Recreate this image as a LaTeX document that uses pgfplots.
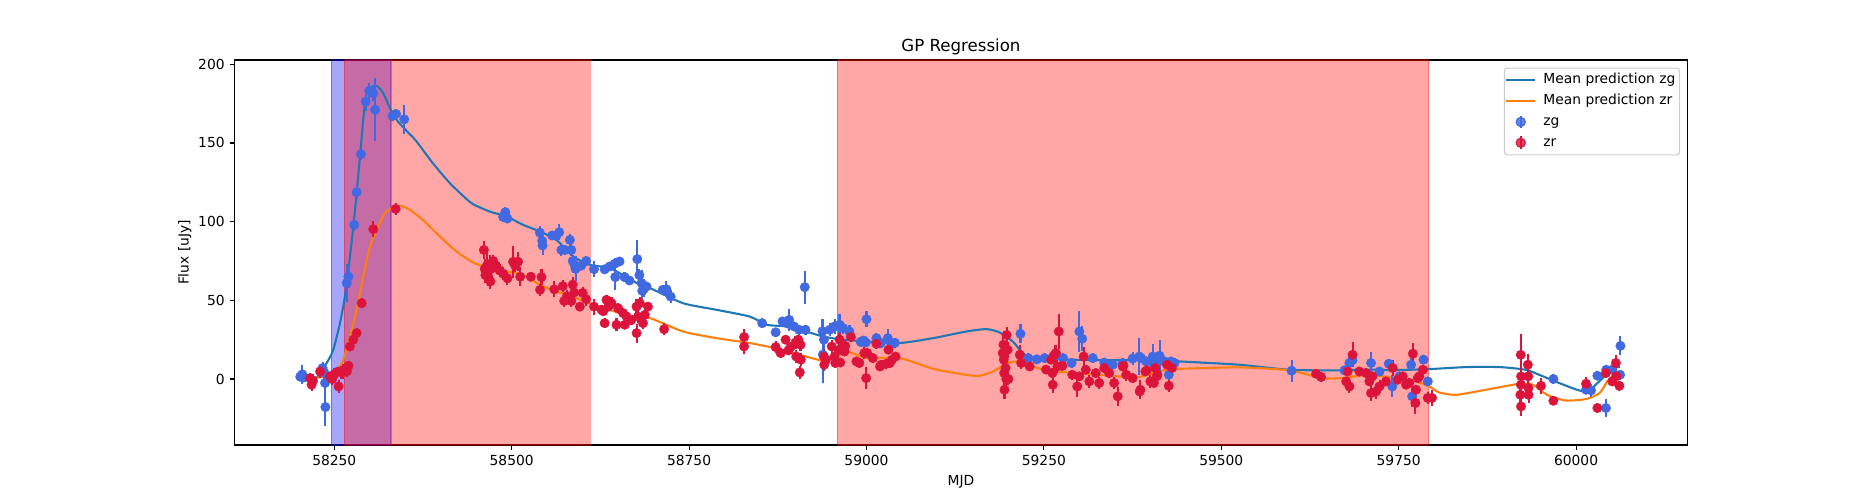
\documentclass[border=0pt]{standalone}
\usepackage{fontspec}
\setmainfont{DejaVu Sans}
\usepackage{pgfplots}
\usepackage{pgfplotstable}
\pgfplotsset{compat=1.18}
\definecolor{royalblue}{RGB}{65,105,225}
\definecolor{crimsonc}{RGB}{220,20,60}
\definecolor{tabblue}{RGB}{31,119,180}
\definecolor{taborange}{RGB}{255,127,14}
\definecolor{legedge}{RGB}{204,204,204}

\pgfplotstableread{
x y e
58202 1.5 3
58205 3 6
58207 1 3
58233.5 7 4
58236 4 5
58237 -2.5 4
58237.5 -17.8 12
58267.5 61 12
58270 65.1 7
58278.2 98 4
58281.5 118.7 4
58287.6 142.9 4
58294.2 176.3 6
58299.3 183.2 5
58305 181.6 5
58307.7 171 20
58332 167.2 3
58337 168.4 3
58348.6 165 9
58488 103 3
58490.4 104.3 3
58491 106 3
58494 102 3
58539.7 93 4
58543 87.8 5
58543.5 84.8 6
58557 91.2 3
58563 91 3
58567 93.3 5
58570 82 4
58575 82 3
58582 88.4 4
58584 82 4
58586 75 4
58589 72 4
58590 70 8
58598 72 3
58605 75 3
58616 69.8 5
58631 69.7 3
58638 71.5 3
58645 73.2 4
58646 64.8 8
58652 74.7 3
58659 64.8 3
58666 62.6 3
58677 76.2 12
58680 66 4
58683 61 8
58684 56 5
58686 57 5
58690 58.8 3
58713 56.7 3
58718 57.1 5
58724 52.4 4
58853 35.5 3
58872 29.7 3
58881.6 36.6 3
58889 35.3 3
58891 37.6 7
58898 33.4 3
58905 31.3 3
58913 58.4 10.5
58914 31.3 3
58938 30.4 8
58940 25 7
58938.5 15.5 18
58948 31.3 4
58955 33.4 5
58962 34.5 7
58967 32.4 4
58976 30.2 4
58992 23.5 3
58996 24.5 3
59000 38 5
58993 23.9 3
58999 23.2 3
59014 26 3
59020 22.8 3
59030 26 6
59035 22.4 3
59040 23 3
59217 28.8 6
59228 13.3 3
59240 12.5 3
59251 13.3 3
59263 14.3 4
59277 13.3 3
59289 10.2 3
59300 30.2 13
59304 25.6 8
59319 13.3 3
59335 10.5 3
59347 9.1 3
59361 10.2 3
59375 13 4
59384.6 14.3 12
59387 13.3 3
59394 11.2 3
59403.5 14.3 8
59404 10.2 3
59410.5 12.3 3
59413 14.8 10
59420 11.2 3
59429 11.2 3
59434 10.2 3
59426 2.7 5
59599 5.3 7
59673.5 5.5 3
59680.5 10.2 5
59685 12 3
59711 10.2 7
59723 4.8 3
59736 9.7 3
59741 -4.7 7
59751 1.7 3
59767.5 9.1 4
59769 -11 7
59785 12.3 3
59791 -1.5 3
59968 0 3
60014 -6.8 3
60021 -7.2 4
60030 2.1 3
60042 -18.4 6
60042.5 5.9 3
60051 5.9 3
60062 2.7 3
60062.5 21.1 6
}\zgdata

\pgfplotstableread{
x y e
58216 0.6 3
58220 -1 4
58218 -3.6 4
58230 4.8 4
58244 1.7 3
58247 0 4
58250 3 4
58255.6 4.8 3
58256 -4.7 4
58260 4.2 4
58262.7 4.8 5
58265 4.8 3
58268 5 4
58270 8.4 3
58272 20.7 3
58276.8 25 3
58281.5 29.2 3
58288.6 48.2 3
58305 95.2 5
58336.5 108.1 4
58460.8 82 6
58462 70 6
58463 66 5
58465 72 8
58467 65 6
58469 73 6
58470 62 5
58471 70 5
58474 75 4
58478 72 3
58483 69 4
58488 67 4
58494 64 4
58502 74.5 10
58505 72 4
58509 74.5 6
58512 65 6
58527 65 3
58540 56.7 4
58542 64.8 5
58560 57 5
58572 59 4
58574 49.6 4
58578 52.6 4
58584 49.6 4
58586 60 5
58588 55 4
58596 46 3
58600 54.7 4
58605 50.7 4
58616 46 5
58626.6 44 3
58629 43.1 3
58631 35.5 3
58633.6 50.3 3
58636 46 3
58640.7 48.2 4
58647.7 34.5 4
58650 45 3
58657 41.9 3
58659.4 34.5 3
58661.8 39.8 3
58668.8 37.6 3
58675.9 46 5
58676 29.2 6
58678 39.7 4
58680.6 48.2 4
58685 35.5 4
58687.6 40.8 3
58692 46 3
58714.8 31.7 4
58827.5 26.7 5
58827.5 20.7 5
58872 20.3 4
58879 16.5 3
58886 25 3
58890 18.2 3
58893 20.3 3
58900 23.2 4
58901 14.3 4
58904 25 3
58906 4.2 4
58907 21.8 4
58907.5 12.3 4
58940 14.3 5
58940.5 9.1 4
58943 12.3 3
58951 20.7 4
58955 14.3 4
58956 10.2 3
58962 25 4
58962.5 18.6 3
58963 10.5 3
58969 17.5 3
58970 21 4
58978 26.7 3
58985.8 11.2 3
58990 10.2 3
58997 16.5 4
58999.5 0.6 7
59001 16.5 3
59009 13.3 3
59014 22.4 3
59019 8 3
59021 9.1 3
59028 9.7 3
59031 18.6 3
59033 10.2 3
59036 12.3 3
59041 14.3 3
59192 16.5 5
59193 21.8 6
59193.5 12.3 6
59194 3.8 5
59194.5 -6.8 6
59196 7 5
59197 0 5
59197.5 28 5
59199 18.6 5
59200 0 4
59216 15.4 6
59218 10.2 4
59230 8 3
59253 6 3
59260 12.3 3
59262 3.8 3
59262.5 -3.6 5
59265 15.4 6
59267 16.5 5
59269 8 4
59271 30.2 11
59276 8.4 3
59290 2.7 3
59297 -4.7 7
59300 1.7 3
59306 14.3 6
59309 5.9 3
59314 -1.5 4
59323 3.8 3
59328 -2.5 4
59335 7 3
59342 3.8 3
59349 -2.5 4
59354 -11 6
59361 8 3
59362 8.4 3
59366 2.7 4
59375 0.6 3
59385 -7.9 5
59386 -6.8 6
59393 4.8 3
59395 5.5 3
59400 -1.5 4
59405 -2.5 3
59407 7 3
59409 1.7 3
59410 2.7 3
59423.5 9.1 3
59430.5 7 3
59426 -4.3 4
59633.5 3.4 3
59640.6 1.3 3
59676 -1.5 3
59678 4.8 3
59680.6 -4.7 4
59685 15.4 8
59694.6 4.8 3
59704 3.8 3
59708.7 -1.5 3
59711 -8.9 5
59713 1.7 3
59718 -7.9 5
59723 -4.7 4
59732 -1.5 3
59741.5 7 5
59748.6 -0.4 3
59755.6 1.7 3
59760.4 -3.6 3
59765 -2.5 3
59770 16.1 7
59773.5 -15.2 7
59774.4 -6.8 3
59777 0.6 3
59779 1.7 3
59784 5.9 3
59791 -12 4
59797 -12 5
59922 15.4 13
59922.5 1.7 5
59932 9.1 7
59922.2 -3.6 5
59932.5 1.7 4
59932.8 -5.7 5
59921.5 -10 5
59933 -10 5
59922.4 -17.4 6
59950.5 -4.3 5
59968 -13.8 3
60014 -3 4
60030 -18.4 3
60042 3.8 3
60051 -1.5 3
60056 10.2 5
60056.5 1.7 3
60061 -4.3 3
}\zrdata

\pgfplotstableread{
x y
58202 2
58212 0.8
58222 0.4
58230 3
58234.5 7
58241 11.5
58248.6 18.6
58258 35.5
58265 52.4
58271 73.6
58276.8 96.9
58281.5 118
58286.2 141.3
58290.8 164.6
58294.6 179.4
58300 184.8
58309.7 186.2
58319 181.6
58328.5 172
58338 164.6
58347 160
58356.6 155.5
58366 150.9
58389 137.1
58413 124.4
58436 114.5
58446 111
58469 106.4
58493 103.2
58516 98
58540 93.7
58563 88.4
58587 77.8
58610 72.6
58638 70.5
58665 64
58680 60
58695 57.8
58741.5 48.2
58788.6 44
58835.5 39.7
58859 34.5
58887 33.4
58915 30.2
58939 27
58967 25
59000 23.9
59047 22.9
59094 26
59140.6 30.2
59169 31.7
59187.6 29.6
59206 23.9
59216 18.6
59228 14
59250 12.8
59300 12.2
59350 12
59400 12
59441 11.2
59525 9.1
59596 5.9
59666 5.5
59700 6
59750 5.8
59793 6.3
59845 7.6
59892 7.6
59929 5.9
59948 2.7
59976 -2.5
60004 -7.2
60017 -7.6
60035 -0.4
60051 7
60062 7.5
}\zgline

\pgfplotstableread{
x y
58202 0.5
58220 0.6
58240 2
58253.4 4.8
58262.7 12.3
58272 27
58281.5 44
58290.8 65.1
58300.3 84.2
58309.7 94.8
58321.4 105.4
58333 109.2
58341 110
58347 109.6
58356.6 107.5
58375 101
58399 90.5
58422.4 81
58445.8 74
58469 70.5
58492.8 68.3
58516 66.2
58539.7 59.9
58563 55.6
58586.6 52.4
58610 48
58638 44
58665 40
58695 38.7
58741.5 30.2
58788.6 26
58835 22.9
58882 18.6
58915 14.3
58939 11.8
58960 15
58976 17
59000 13.3
59047 13.3
59094 6.5
59140 2.7
59159 2.1
59178 4.8
59201 10.5
59216 11
59234 8
59260 5
59290 4
59328 2.7
59360 1.5
59384 1.3
59412 4.8
59431 6.3
59525 7.4
59596 5.5
59642 0.6
59670 0.6
59707 2.7
59740 1
59770 -1
59793 -4.7
59807 -8.5
59831 -10
59873 -6.8
59920 -3
59939 -3.6
59959 -10
59985 -13.6
60014 -12.7
60033 -8.9
60044 -1.5
60052 2
60062 3
}\zrline

\begin{document}
\begin{tikzpicture}
\path[use as bounding box] (-168.75bp,-39.6bp) rectangle (1181.25bp,320.4bp);
\begin{axis}[
  at={(0,0)}, anchor=south west,
  scale only axis, width=1046.25bp, height=277.2bp,
  xmin=58109.2, xmax=60157, ymin=-41.9, ymax=202.7,
  axis line style={line width=0.8bp},
  xtick={58250,58500,58750,59000,59250,59500,59750,60000},
  ytick={0,50,100,150,200},
  scaled x ticks=false, scaled y ticks=false,
  tick align=outside, xtick pos=bottom, ytick pos=left,
  major tick length=3.5bp,
  every tick/.style={line width=0.8bp, black},
  tick label style={font=\fontsize{10}{12}\selectfont},
  /pgf/number format/1000 sep={},
  /pgf/number format/assume math mode=true,
  title={GP Regression},
  title style={font=\fontsize{12}{14.4}\selectfont, at={(axis description cs:0.5,1)}, anchor=base},
  xlabel={MJD},
  xlabel style={font=\fontsize{10}{12}\selectfont, at={(axis description cs:0.5,-0.1039)}, anchor=base},
  ylabel={Flux [uJy]},
  ylabel style={font=\fontsize{10}{12}\selectfont, at={(axis description cs:-0.03154,0.5)}, anchor=base},
  legend style={at={(axis description cs:1,1)}, anchor=north east, xshift=-5.3bp, yshift=-5.5bp,
    draw=legedge, line width=0.8bp, fill=white, fill opacity=0.8, text opacity=1, draw opacity=1,
    rounded corners=2bp, font=\fontsize{10}{12}\selectfont,
    inner xsep=0.5bp, inner ysep=1.2bp, row sep=0bp, column sep=2.6bp,
    nodes={inner ysep=2.5bp, inner xsep=2.5bp, text height=7.6bp, text depth=2.4bp}},
  legend cell align=left,
]
% shaded spans
\addplot[forget plot, fill=blue, fill opacity=0.35, draw=blue, draw opacity=0.35, line width=1bp]
  coordinates {(58246,-41.9) (58246,202.7) (58330,202.7) (58330,-41.9)} -- cycle;
\addplot[forget plot, fill=red, fill opacity=0.35, draw=red, draw opacity=0.35, line width=1bp]
  coordinates {(58264,-41.9) (58264,202.7) (58611,202.7) (58611,-41.9)} -- cycle;
\addplot[forget plot, fill=red, fill opacity=0.35, draw=red, draw opacity=0.35, line width=1bp]
  coordinates {(58959,-41.9) (58959,202.7) (59792,202.7) (59792,-41.9)} -- cycle;
% GP mean lines
\addplot[tabblue, line width=1.5bp, smooth, tension=0.4,
  legend image code/.code={\draw[tabblue, line width=1.5bp] (0bp,0bp) -- (21bp,0bp);}]
  table[x=x,y=y] {\zgline};
\addlegendentry{Mean prediction zg}
\addplot[taborange, line width=1.5bp, smooth, tension=0.4,
  legend image code/.code={\draw[taborange, line width=1.5bp] (0bp,0bp) -- (21bp,0bp);}]
  table[x=x,y=y] {\zrline};
\addlegendentry{Mean prediction zr}
% data points
\addplot[royalblue, only marks, mark=*, mark size=3.45bp, mark options={royalblue, fill=royalblue, line width=0.2bp},
  error bars/.cd, y dir=both, y explicit, error mark=none,
  error bar style={royalblue, line width=1.5bp},
  /pgfplots/legend image code/.code={\draw[royalblue, line width=1.5bp] (10.5bp,-4.6bp) -- (10.5bp,4.6bp); \fill[royalblue] (10.5bp,0bp) circle (3.3bp);}]
  table[x=x,y=y,y error=e] {\zgdata};
\addlegendentry{zg}
\addplot[crimsonc, only marks, mark=*, mark size=3.45bp, mark options={crimsonc, fill=crimsonc, line width=0.2bp},
  error bars/.cd, y dir=both, y explicit, error mark=none,
  error bar style={crimsonc, line width=1.5bp},
  /pgfplots/legend image code/.code={\draw[crimsonc, line width=1.5bp] (10.5bp,-4.6bp) -- (10.5bp,4.6bp); \fill[crimsonc] (10.5bp,0bp) circle (3.3bp);}]
  table[x=x,y=y,y error=e] {\zrdata};
\addlegendentry{zr}
\end{axis}
\end{tikzpicture}
\end{document}
